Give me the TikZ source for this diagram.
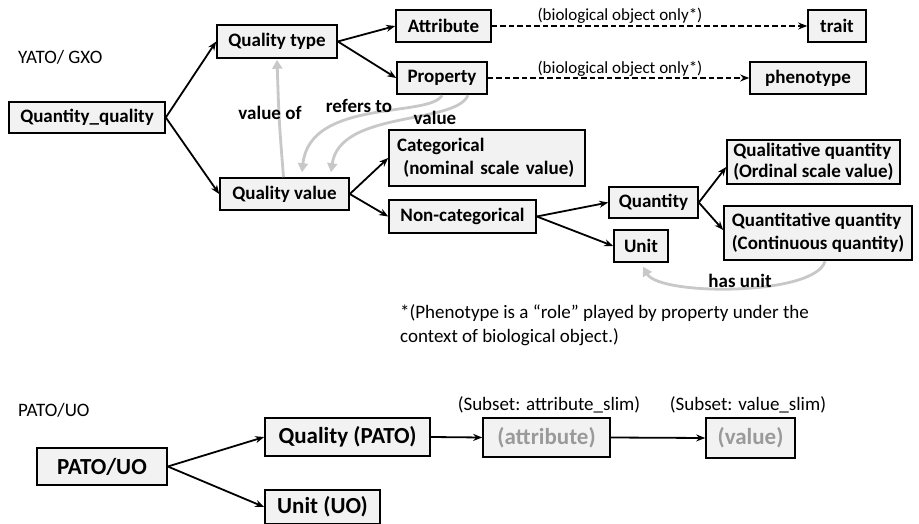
\documentclass[tikz,border=0pt]{standalone}
\usepackage{fontspec}
\setmainfont{Carlito}
\usetikzlibrary{arrows.meta,calc}
\definecolor{boxfill}{HTML}{F2F2F2}
\definecolor{lgray}{HTML}{C8C8C8}
\definecolor{tgray}{HTML}{9A9A9A}
\begin{document}
\begin{tikzpicture}[x=1pt,y=-1pt,
  box/.style={draw=black,line width=1.6pt,fill=boxfill,inner sep=0pt,font=\fontsize{19}{21}\selectfont\bfseries},
  bigbox/.style={box,font=\fontsize{23}{25}\selectfont\bfseries},
  arr/.style={-{Stealth[length=9pt,width=7pt]},line width=1.8pt},
  darr/.style={arr,dash pattern=on 5.5pt off 3pt},
  garr/.style={-{Triangle[length=9pt,width=10pt]},line width=2.8pt,draw=lgray},
  lbl/.style={font=\fontsize{17}{19}\selectfont,inner sep=0pt},
  rlbl/.style={font=\fontsize{19}{21}\selectfont,inner sep=0pt},
  blbl/.style={font=\fontsize{19}{21}\selectfont\bfseries,inner sep=0pt}]
\useasboundingbox[fill=white] (0,0) rectangle (919,524);

% titles
\node[rlbl,anchor=west] (t1) at (18,57) {YATO/ GXO};
\node[rlbl,anchor=west] (t2) at (18,410) {PATO/UO};

% top nodes
\node[box,minimum width=156pt,minimum height=31pt] (qq) at (87,117.5) {Quantity\_quality};
\node[box,minimum width=120pt,minimum height=33pt] (qtype) at (277,41.5) {Quality type};
\node[box,minimum width=95pt,minimum height=32pt] (attr) at (443.5,26) {Attribute};
\node[box,minimum width=58pt,minimum height=32pt] (trait) at (837,26) {trait};
\node[box,minimum width=90pt,minimum height=32pt] (prop) at (442,78) {Property};
\node[box,minimum width=116pt,minimum height=32pt] (pheno) at (808,78) {phenotype};
\node[box,minimum width=129pt,minimum height=32pt] (qval) at (284.5,194) {Quality value};
\node[box,minimum width=196pt,minimum height=56pt,align=left,text width=180pt,inner xsep=8pt,font=\fontsize{19}{23}\selectfont\bfseries] (cat) at (487,158) {Categorical\\\ (nominal scale value)};
\node[box,minimum width=147pt,minimum height=33pt] (noncat) at (462.5,216.5) {Non-categorical};
\node[box,minimum width=89pt,minimum height=31pt] (quant) at (653.5,202.5) {Quantity};
\node[box,minimum width=54pt,minimum height=32pt] (unit) at (641,246) {Unit};
\node[box,minimum width=173pt,minimum height=44pt,align=left] (qual) at (813.5,162) {Qualitative quantity\\(Ordinal scale value)};
\node[box,minimum width=188pt,minimum height=54pt,align=left,font=\fontsize{19}{23}\selectfont\bfseries] (quantv) at (818,233) {Quantitative quantity\\(Continuous quantity)};

% black arrows
\draw[arr] (qq.east) -- (qtype.west);
\draw[arr] (qq.east) -- (qval.west);
\draw[arr] (qtype.east) -- (attr.west);
\draw[arr] (qtype.east) -- (prop.west);
\draw[darr] (attr.east) -- (trait.west);
\node[lbl,anchor=base] (bio1) at (620,21) {(biological object only*)};
\draw[darr] (prop.east) -- (pheno.west);
\node[lbl,anchor=base] (bio2) at (620,74) {(biological object only*)};
\draw[arr] (qval.east) -- (cat.west);
\draw[arr] (qval.east) -- (noncat.west);
\draw[arr] (noncat.east) -- (quant.west);
\draw[arr] (noncat.east) -- (unit.west);
\draw[arr] (quant.east) -- ($(qual.west)+(0,5)$);
\draw[arr] (quant.east) -- ($(quantv.west)+(0,-3)$);

% gray arrows
\draw[garr] ($(qval.north)+(-1,0)$) .. controls (279,120) .. ($(qtype.south)+(0,1)$);
\node[blbl] (lvo) at (270,113) {value of};
\draw[garr] ($(prop.south)+(0,0.5)$) .. controls (430,118) and (310,98) .. ($(qval.north)+(17.5,-5)$);
\node[blbl] (lrt) at (359,106) {refers to};
\draw[garr] ($(prop.south)+(26,0.5)$) .. controls (455,125) and (340,110) .. ($(qval.north)+(46.5,-5)$);
\node[blbl] (lv) at (435,118) {value};
\draw[garr] ($(quantv.south)+(7,0.5)$) .. controls (815,296) and (660,296) .. ($(unit.south)+(2,4)$);
\node[blbl] (lhu) at (740,281) {has unit};

% footnote
\node[rlbl,anchor=base west] (fn1) at (400,318) {*(Phenotype is a “role” played by property under the};
\node[rlbl,anchor=base west] (fn2) at (400,342) {context of biological object.)};

% bottom
\node[bigbox,minimum width=130pt,minimum height=37pt] (pato) at (102,466.5) {PATO/UO};
\node[bigbox,minimum width=165pt,minimum height=38pt] (qpato) at (347.5,437) {Quality (PATO)};
\node[bigbox,minimum width=115pt,minimum height=34pt] (unituo) at (322.5,507) {Unit (UO)};
\node[bigbox,minimum width=127pt,minimum height=39pt,text=tgray] (attrslim) at (546.5,437.5) {(attribute)};
\node[bigbox,minimum width=89pt,minimum height=40pt,text=tgray] (valslim) at (750.5,438) {(value)};
\node[rlbl] (s1) at (549,405) {(Subset: attribute\_slim)};
\node[rlbl] (s2) at (748,405) {(Subset: value\_slim)};

\draw[arr] (pato.east) -- (qpato.west);
\draw[arr] (pato.east) -- (unituo.west);
\draw[arr] (qpato.east) -- (attrslim.west);
\draw[arr] (attrslim.east) -- (valslim.west);
\end{tikzpicture}
\end{document}
